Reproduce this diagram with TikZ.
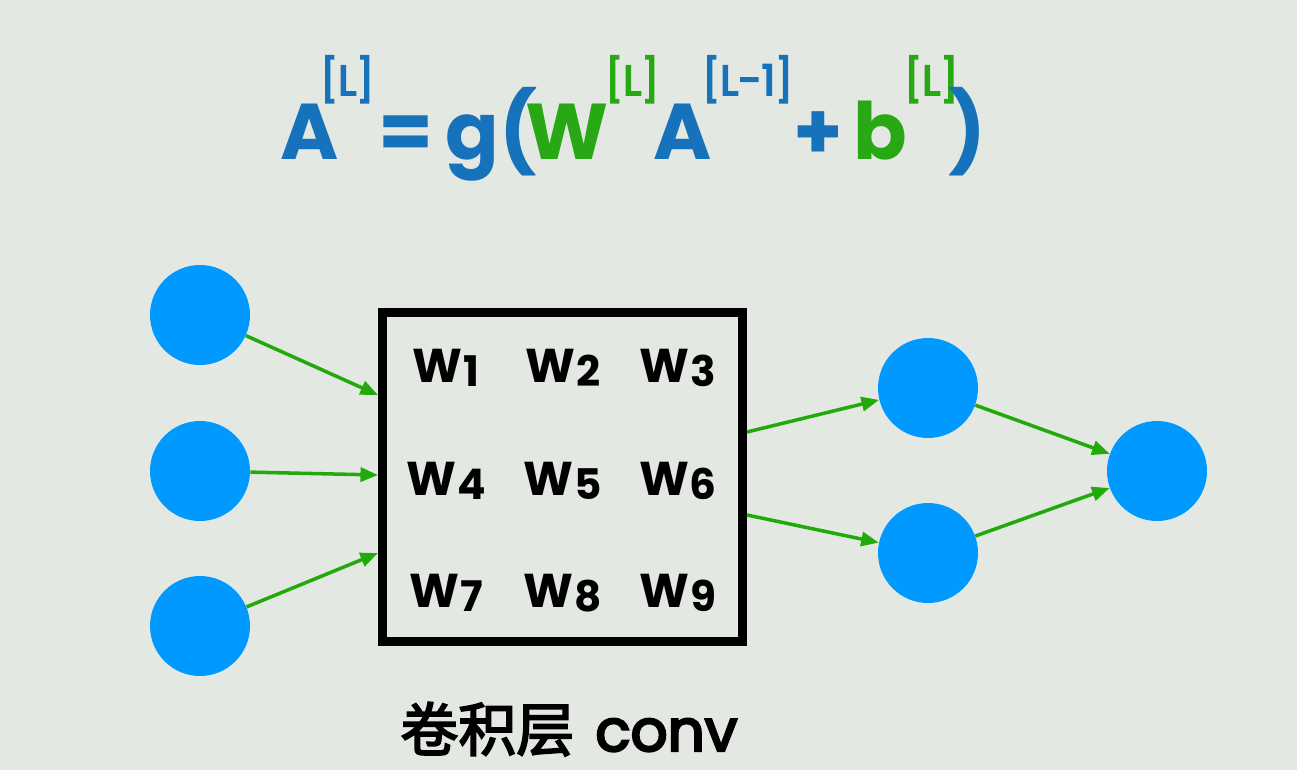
\documentclass[tikz,border=0pt]{standalone}
\usepackage{fontspec}
\setmainfont{Poppins}
\newfontfamily\medfont{Poppins}[FakeBold=4]
\newfontfamily\cjkmed{Noto Sans CJK SC}[FakeBold=3]
\usetikzlibrary{arrows.meta}
\definecolor{bgcol}{RGB}{228,232,226}
\definecolor{fblue}{RGB}{22,114,186}
\definecolor{fgreen}{RGB}{40,168,20}
\definecolor{nodeblue}{RGB}{0,153,255}
\definecolor{agreen}{RGB}{34,170,10}
\newcommand{\wlab}[1]{W\kern0.5pt{\fontsize{24}{24}\selectfont\raisebox{-2.8pt}{#1}}}
\begin{document}
\begin{tikzpicture}[x=0.02cm,y=-0.02cm,
  neuron/.style={circle, fill=nodeblue, minimum size=2cm, inner sep=0pt},
  link/.style={draw=agreen, line width=2pt, -{Triangle[length=10pt,width=8pt]}},
  bigtxt/.style={font=\bfseries\fontsize{45}{45}\selectfont, inner sep=0pt, anchor=base west},
  suptxt/.style={font=\medfont\fontsize{24}{24}\selectfont, inner sep=0pt, anchor=base west},
  wtxt/.style={font=\bfseries\fontsize{27}{27}\selectfont, inner sep=0pt, anchor=base},
  convbox/.style={draw=black, line width=5.1pt, minimum width=7.2cm, minimum height=6.59cm, inner sep=0pt}
]
\useasboundingbox (0,0) rectangle (1297,770);
\fill[bgcol] (0,0) rectangle (1297,770);

% formula
\node[bigtxt, text=fblue] (fA) at (280,160) {A};
\node[suptxt, text=fblue] (fs1) at (320,95) {[L]};
\node[bigtxt, text=fblue] (feq) at (378,160) {=};
\node[bigtxt, text=fblue] (fg) at (445,160) {g(};
\node[bigtxt, text=fgreen] (fW) at (525,160) {W};
\node[suptxt, text=fgreen] (fs2) at (605,95) {[L]};
\node[bigtxt, text=fblue] (fA2) at (653,160) {A};
\node[suptxt, text=fblue] (fs3) at (702,95) {[L-1]};
\node[bigtxt, text=fblue] (fplus) at (793,160) {+};
\node[bigtxt, text=fgreen] (fb) at (853,160) {b};
\node[suptxt, text=fgreen] (fs4) at (904,95) {[L]};
\node[bigtxt, text=fblue] (fclose) at (948,160) {)};

% neurons
\node[neuron] (i1) at (200,315) {};
\node[neuron] (i2) at (200,471) {};
\node[neuron] (i3) at (200,626) {};
\node[neuron] (m1) at (928,388) {};
\node[neuron] (m2) at (928,553) {};
\node[neuron] (o) at (1157,471) {};

% conv box
\node[convbox] (box) at (562.5,477.25) {};
\node[wtxt] (w1) at (446,382) {\wlab{1}};
\node[wtxt] (w2) at (563,382) {\wlab{2}};
\node[wtxt] (w3) at (678,382) {\wlab{3}};
\node[wtxt] (w4) at (446,495) {\wlab{4}};
\node[wtxt] (w5) at (563,495) {\wlab{5}};
\node[wtxt] (w6) at (678,495) {\wlab{6}};
\node[wtxt] (w7) at (446,607) {\wlab{7}};
\node[wtxt] (w8) at (563,607) {\wlab{8}};
\node[wtxt] (w9) at (678,607) {\wlab{9}};

\node[inner sep=0pt, anchor=base west, font=\fontsize{33}{33}\selectfont] (lbl) at (400,751) {{\cjkmed 卷积层}\hspace{12pt}{\medfont conv}};

% connector ends on the box
\coordinate (bi1) at (378,395);
\coordinate (bi2) at (378,475);
\coordinate (bi3) at (378,553);
\coordinate (bo1) at (747,432);
\coordinate (bo2) at (747,515);

\draw[link] (i1) -- (bi1);
\draw[link] (i2) -- (bi2);
\draw[link] (i3) -- (bi3);
\draw[link] (bo1) -- (m1);
\draw[link] (bo2) -- (m2);
\draw[link] (m1) -- (o);
\draw[link] (m2) -- (o);
\end{tikzpicture}
\end{document}
